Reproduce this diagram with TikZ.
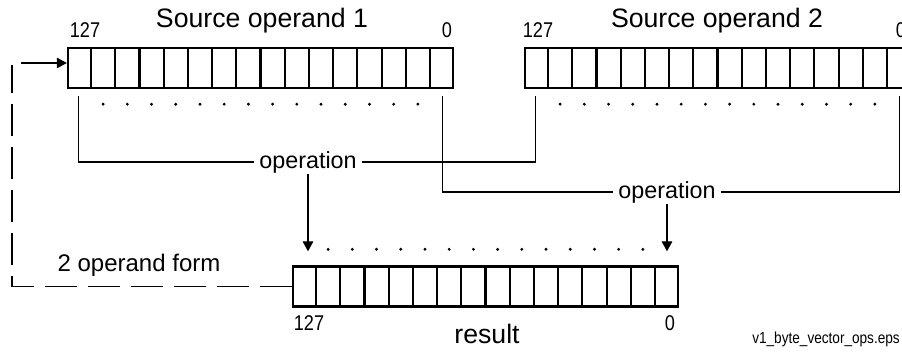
\documentclass[tikz,border=0pt]{standalone}
\usepackage{fontspec}
\setmainfont{Liberation Sans}
\newfontfamily\narrowfont[FakeStretch=0.85]{Liberation Sans}
\usetikzlibrary{arrows.meta,calc}

\begin{document}
\begin{tikzpicture}[x=0.75pt, y=-0.75pt,
  >={Triangle[length=7.5pt,width=8pt]},
  reg/.style={draw, line width=1.8pt, minimum width=288.75pt,
              minimum height=30pt, inner sep=0pt},
  cell/.style={line width=1.6pt},
  conn/.style={line width=0.8pt},
  fback/.style={conn, dash pattern=on 24pt off 8.25pt},
  optext/.style={font=\fontsize{17.5}{20}\selectfont, inner xsep=3.5pt, inner ysep=1pt},
  title/.style={font=\fontsize{20}{24}\selectfont, anchor=base, inner sep=0pt},
  bitno/.style={font=\narrowfont\fontsize{16}{19}\selectfont, anchor=base, inner sep=0pt}]

  \useasboundingbox (0,0) rectangle (902,352);

  \node[reg] (src1) at (260.5,68) {};
  \node[reg] (src2) at (717.5,68) {};
  \node[reg] (res) at (485.5,286.5) {};

  \foreach \r in {src1,src2,res}
    \foreach \i in {1,...,15}
      \draw[cell] ($(\r.north west)!\i/16!(\r.north east)$) -- ($(\r.south west)!\i/16!(\r.south east)$);

  % dotted rows between the first and last byte
  \foreach \r in {src1,src2}
    \foreach \i in {2,...,15}
      \fill ($(\r.south west)!{(\i-0.5)/16}!(\r.south east) + (0,15)$) circle (1.2pt);
  \foreach \i in {2,...,15}
    \fill ($(res.north west)!{(\i-0.5)/16}!(res.north east) + (0,-16)$) circle (1.2pt);

  \node[title] (t1) at (262,28) {Source operand 1};
  \node[title] (t2) at (717,28) {Source operand 2};
  \node[bitno] (s1hi) at (85,38) {127};
  \node[bitno] (s1lo) at (447,38) {0};
  \node[bitno] (s2hi) at (538,38) {127};
  \node[bitno] (s2lo) at (901,38) {0};
  \node[bitno] (rhi) at (309,330) {127};
  \node[bitno] (rlo) at (670,330) {0};
  \node[title] (rlab) at (487,343) {result};

  \coordinate (a1) at ($(src1.south west)+(12,7)$);
  \coordinate (b1) at ($(src1.south east)+(-12,7)$);
  \coordinate (a2) at ($(src2.south west)+(12,7)$);
  \coordinate (b2) at ($(src2.south east)+(-12,7)$);
  \coordinate (rin) at ($(res.north)+(0,-14)$);

  \node[optext] (op1) at (308,162) {operation};
  \node[optext] (op2) at (667,192) {operation};

  \draw[conn] (a1) |- (op1.west);
  \draw[conn] (op1.east) -| (a2);
  \draw[conn] (b1) |- (op2.west);
  \draw[conn] (op2.east) -| (b2);
  \draw[conn,->] (op1.south) -- (op1.south |- rin);
  \draw[conn,->] (op2.south) -- (op2.south |- rin);

  % result fed back as first source
  \coordinate (fb) at (12,65);
  \coordinate (fbin) at (21,63);
  \draw[fback] (res.west) -| (fb);
  \draw[conn,->] (fbin) -- (fbin -| src1.west);
  \node[font=\fontsize{18}{22}\selectfont, anchor=base, inner sep=0pt] (form) at (139,272) {2 operand form};

  \node[font=\narrowfont\fontsize{12}{14}\selectfont, anchor=base east, inner sep=0pt] (fname)
    at (900,343) {v1\_byte\_vector\_ops.eps};
\end{tikzpicture}
\end{document}
